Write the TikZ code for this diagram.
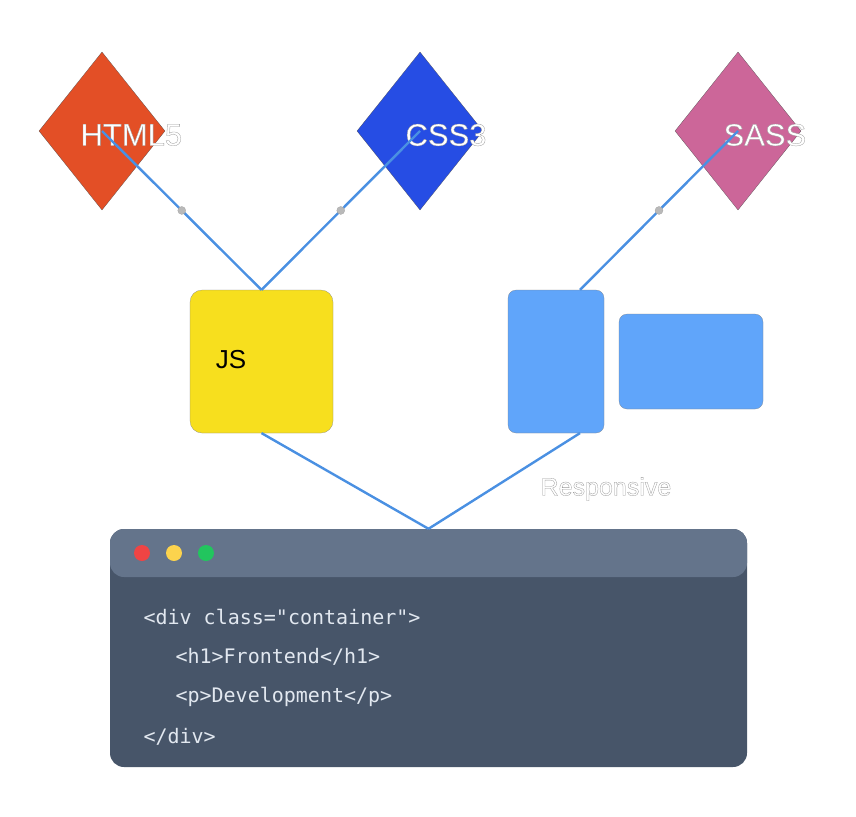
\documentclass[tikz,border=0pt]{standalone}
\usepackage{fontspec}
\setmainfont{Liberation Sans}
\newfontfamily\codefont{DejaVu Sans Mono}
\usetikzlibrary{shapes.geometric}

\definecolor{htmlred}{HTML}{E34F26}
\definecolor{cssblue}{HTML}{264DE4}
\definecolor{sasspink}{HTML}{CC6699}
\definecolor{jsyellow}{HTML}{F7DF1E}
\definecolor{respblue}{HTML}{60A5FA}
\definecolor{linkblue}{HTML}{4A90E2}
\definecolor{winhead}{HTML}{64748B}
\definecolor{winbody}{HTML}{475569}
\definecolor{codetext}{HTML}{E2E8F0}
\definecolor{lightred}{HTML}{EF4444}
\definecolor{lightyellow}{HTML}{FCD34D}
\definecolor{lightgreen}{HTML}{22C55E}

% white text with a faint rim
\newcommand\rimtext[1]{\special{pdf:literal direct 0.6 0.6 0.6 RG 0.3 w 2 Tr}#1\special{pdf:literal direct 0 Tr}}

\tikzset{
  tech/.style={diamond, draw=black!70, very thin, inner sep=0pt, minimum width=126pt, minimum height=158pt},
  techlabel/.style={anchor=west, text=white, font=\fontsize{31}{31}\selectfont},
  card/.style={rounded corners=12pt, draw=black!50, very thin, inner sep=0pt},
  link/.style={linkblue, line width=2.4pt},
  joint/.style={circle, fill=gray!55, draw=gray!80, very thin, inner sep=0pt, minimum size=8pt},
  codeline/.style={anchor=west, text=codetext, font=\codefont\fontsize{20}{20}\selectfont},
  light/.style={circle, inner sep=0pt, minimum size=16pt}
}

\begin{document}
\begin{tikzpicture}[x=1pt, y=-1pt]
  \useasboundingbox (0,0) rectangle (856,816);

  % --- Technologies ---
  \node[tech, fill=htmlred] (html) at (102,131) {};
  \node[tech, fill=cssblue] (css) at (420,131) {};
  \node[tech, fill=sasspink] (sass) at (738,131) {};
  \node[techlabel] (htmllabel) at (77,135) {\rimtext{HTML5}};
  \node[techlabel] (csslabel) at (402,135) {\rimtext{CSS3}};
  \node[techlabel] (sasslabel) at (720,135) {\rimtext{SASS}};

  % --- JS and responsive cards ---
  \node[card, fill=jsyellow, minimum width=143pt, minimum height=143pt] (js) at (261.5,361.5) {};
  \node[font=\fontsize{26}{26}\selectfont] (jslabel) at (231,360) {JS};
  \node[card, rounded corners=8pt, fill=respblue, minimum width=96pt, minimum height=143pt] (mobile) at (556,361.5) {};
  \node[card, rounded corners=8pt, fill=respblue, minimum width=144pt, minimum height=95pt] (desktop) at (691,361.5) {};
  \node[text=white, font=\fontsize{25}{25}\selectfont] (resp) at (606,489) {\rimtext{Responsive}};

  % --- Code window ---
  \node[rounded corners=14pt, fill=winbody, minimum width=637pt, minimum height=238pt, inner sep=0pt] (code) at (428.5,648) {};
  \node[rounded corners=14pt, fill=winhead, minimum width=637pt, minimum height=48pt, inner sep=0pt] (bar) at (428.5,553) {};
  \node[light, fill=lightred] (close) at (142,553) {};
  \node[light, fill=lightyellow] (min) at (174,553) {};
  \node[light, fill=lightgreen] (max) at (206,553) {};
  \node[codeline] (l1) at (140,617) {<div class="container">};
  \node[codeline] (l2) at (172,657) {<h1>Frontend</h1>};
  \node[codeline] (l3) at (172,697) {<p>Development</p>};
  \node[codeline] (l4) at (140,737) {</div>};

  % --- Links ---
  \draw[link] (html.center) -- node[joint] {} (js.north);
  \draw[link] (css.center) -- node[joint] {} (js.north);
  \draw[link] (sass.center) -- node[joint] {} ([xshift=24pt]mobile.north);
  \draw[link] (js.south) -- (code.north);
  \draw[link] ([xshift=24pt]mobile.south) -- (code.north);
\end{tikzpicture}
\end{document}
